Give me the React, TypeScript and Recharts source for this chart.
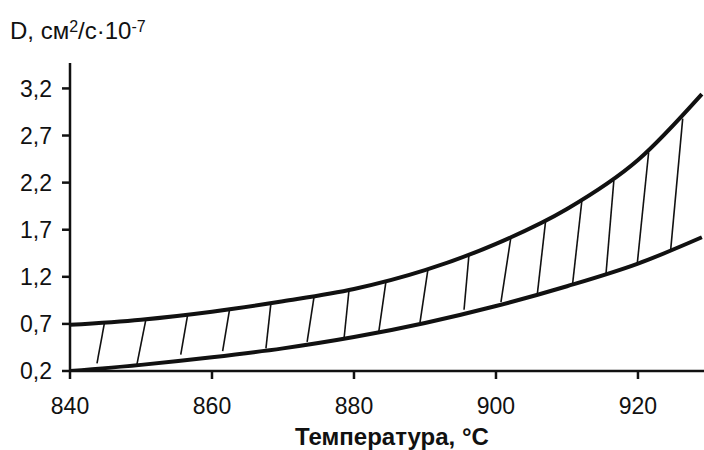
import React from 'react';
import { LineChart, Line, XAxis, YAxis, ReferenceLine } from 'recharts';

// temperature, °C
const temps = [840, 850, 860, 870, 880, 890, 900, 910, 920, 929];
// D, cm2/s * 10^-7
const upperD = [0.69, 0.745, 0.83, 0.94, 1.07, 1.27, 1.55, 1.92, 2.44, 3.14];
const lowerD = [0.2, 0.265, 0.345, 0.44, 0.56, 0.71, 0.89, 1.1, 1.34, 1.62];

// hatching between the curves (bottom end -> top end)
const hatchBottomT = [843.8, 849.4, 855.6, 861.5, 867.6, 873.4, 878.6, 883.5, 889.3, 895.5, 900.7, 905.8, 910.8, 915.5, 919.9, 924.6];
const hatchBottomD = [0.28, 0.26, 0.375, 0.41, 0.44, 0.51, 0.545, 0.62, 0.715, 0.85, 0.93, 1.0, 1.13, 1.235, 1.34, 1.48];
const hatchTopT = [844.9, 850.7, 856.6, 862.5, 868.3, 874.4, 879.3, 884.5, 890.4, 896.2, 902.1, 907.0, 912.1, 916.6, 921.5, 926.3];
const hatchTopD = [0.73, 0.75, 0.81, 0.865, 0.92, 1.0, 1.06, 1.15, 1.27, 1.44, 1.62, 1.8, 2.01, 2.22, 2.52, 2.88];

const xTicks = [840, 860, 880, 900, 920];
const yTicks = [0.2, 0.7, 1.2, 1.7, 2.2, 2.7, 3.2];

const data = temps.map((t, i) => ({ t, upper: upperD[i], lower: lowerD[i] }));

const INK = '#111';
const FONT = '"Liberation Sans", Arial, sans-serif';
const tickStyle = { fill: INK, fontSize: 23, fontFamily: FONT };

export default function App() {
  return (
    <div style={{ position: 'relative', width: 704, height: 450, background: '#fff', fontFamily: FONT }}>
      <style>{`body{margin:0}`}</style>

      {/* axis title */}
      <div style={{ position: 'absolute', left: 10, top: 16, fontSize: 24, color: INK, lineHeight: '30px', whiteSpace: 'nowrap' }}>
        D, см<sup style={{ fontSize: 16, verticalAlign: 'top', position: 'relative', top: -4 }}>2</sup>/с·10
        <sup style={{ fontSize: 16, verticalAlign: 'top', position: 'relative', top: -4 }}>-7</sup>
      </div>

      <LineChart width={704} height={450} data={data} margin={{ top: 63, right: 0, bottom: 0, left: 0 }}>
        <XAxis
          dataKey="t"
          type="number"
          domain={[840, 929.3]}
          ticks={xTicks}
          allowDataOverflow
          stroke={INK}
          strokeWidth={2.5}
          tickSize={8}
          tickMargin={19}
          height={79}
          tick={tickStyle}
        />
        <YAxis
          type="number"
          domain={[0.2, 3.47]}
          ticks={yTicks}
          allowDataOverflow
          stroke={INK}
          strokeWidth={2.5}
          tickSize={8}
          tickMargin={10}
          width={70}
          tick={tickStyle}
          tickFormatter={(v: number) => v.toFixed(1).replace('.', ',')}
        />
        {hatchTopT.map((tt, i) => (
          <ReferenceLine
            key={i}
            segment={[
              { x: hatchBottomT[i], y: hatchBottomD[i] },
              { x: tt, y: hatchTopD[i] },
            ]}
            stroke={INK}
            strokeWidth={1.6}
            ifOverflow="visible"
          />
        ))}
        <Line type="monotone" dataKey="upper" stroke={INK} strokeWidth={4} dot={false} isAnimationActive={false} />
        <Line type="monotone" dataKey="lower" stroke={INK} strokeWidth={4} dot={false} isAnimationActive={false} />
      </LineChart>

      {/* x axis title */}
      <div style={{ position: 'absolute', left: 0, width: 784, top: 423, textAlign: 'center', fontSize: 24, fontWeight: 'bold', color: INK, whiteSpace: 'nowrap' }}>
        Температура, °С
      </div>
    </div>
  );
}
